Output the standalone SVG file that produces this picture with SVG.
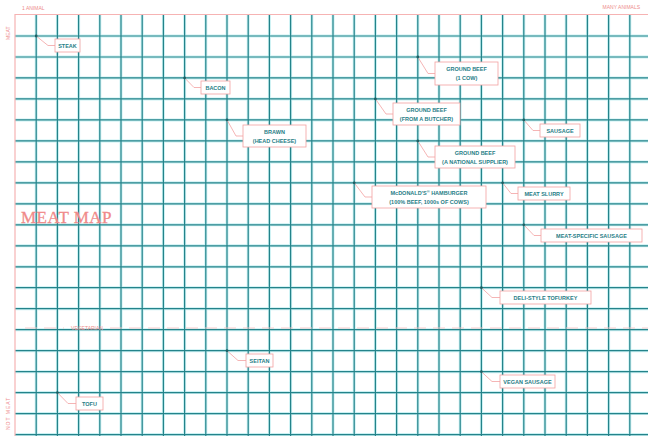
<svg xmlns="http://www.w3.org/2000/svg" width="648" height="439" viewBox="0 0 648 439">
<style>
.glow{stroke:#9fe6ea;stroke-width:3;fill:none;opacity:.55}
.grid{stroke:#24838a;stroke-width:1.2;fill:none}
.border{stroke:#f6b3b3;stroke-width:1.2;fill:none}
.lead{stroke:#f2a2a2;stroke-width:.8;fill:none}
.box{fill:#fff;stroke:#f3a0a0;stroke-width:.8}
.dot{fill:#1d5f63}
.lbl{font-family:"Liberation Sans",Arial,sans-serif;font-size:5.5px;font-weight:bold;fill:#1f7d86;text-anchor:middle}
.axis{font-family:"Liberation Sans",Arial,sans-serif;font-size:5px;fill:#ee8c8c}
.title{font-family:"Liberation Serif","Times New Roman",serif;font-size:17px;fill:#f08a8a;letter-spacing:.5px;stroke:#f08a8a;stroke-width:.3}
.dash{stroke:#f8c4c4;stroke-width:.9;stroke-dasharray:12 7;fill:none}
</style>
<rect width="648" height="439" fill="#fff"/>
<g id="grid">
<path class="glow" d="M36.2 14V436M57.4 14V436M78.6 14V436M99.8 14V436M121 14V436M142.2 14V436M163.4 14V436M184.6 14V436M205.8 14V436M227 14V436M248.2 14V436M269.4 14V436M290.6 14V436M311.8 14V436M333 14V436M354.2 14V436M375.4 14V436M396.6 14V436M417.8 14V436M439 14V436M460.2 14V436M481.4 14V436M502.6 14V436M523.8 14V436M545 14V436M566.2 14V436M587.4 14V436M608.6 14V436M629.8 14V436M15 36H648M15 57H648M15 77.9H648M15 98.9H648M15 119.9H648M15 140.9H648M15 161.9H648M15 182.8H648M15 203.8H648M15 224.8H648M15 245.8H648M15 266.8H648M15 287.7H648M15 308.7H648M15 329.7H648M15 350.7H648M15 371.7H648M15 392.6H648M15 413.6H648M15 434.6H648"/>
<path class="grid" d="M36.2 14V436M57.4 14V436M78.6 14V436M99.8 14V436M121 14V436M142.2 14V436M163.4 14V436M184.6 14V436M205.8 14V436M227 14V436M248.2 14V436M269.4 14V436M290.6 14V436M311.8 14V436M333 14V436M354.2 14V436M375.4 14V436M396.6 14V436M417.8 14V436M439 14V436M460.2 14V436M481.4 14V436M502.6 14V436M523.8 14V436M545 14V436M566.2 14V436M587.4 14V436M608.6 14V436M629.8 14V436M15 36H648M15 57H648M15 77.9H648M15 98.9H648M15 119.9H648M15 140.9H648M15 161.9H648M15 182.8H648M15 203.8H648M15 224.8H648M15 245.8H648M15 266.8H648M15 287.7H648M15 308.7H648M15 329.7H648M15 350.7H648M15 371.7H648M15 392.6H648M15 413.6H648M15 434.6H648"/>
<path class="border" d="M15 14.5H648M15 14V436"/>
</g>
<g id="axes">
<text class="axis" x="22" y="10">1 ANIMAL</text>
<text class="axis" x="640" y="9" text-anchor="end">MANY ANIMALS</text>
<text class="axis" transform="translate(10 40) rotate(-90)">MEAT</text>
<text class="axis" transform="translate(10 430) rotate(-90)" letter-spacing="1">NOT MEAT</text>
<text class="title" x="21" y="223">MEAT MAP</text>
<path class="dash" d="M25 328H64M110 328H648"/>
<text class="axis" x="87" y="329.5" text-anchor="middle">VEGETARIAN</text>
</g>
<g id="connectors">
<path class="lead" d="M36.2 36L48 45.5H55"/>
<path class="lead" d="M184.6 77.9L194 87.5H201"/>
<path class="lead" d="M227 119.9L236 136H243"/>
<path class="lead" d="M417.8 57L428 73.5H435"/>
<path class="lead" d="M375.4 98.9L386 114H393"/>
<path class="lead" d="M417.8 140.9L428 157H435"/>
<path class="lead" d="M523.8 119.9L533 130.5H540"/>
<path class="lead" d="M354.2 182.8L365 197H372"/>
<path class="lead" d="M502.6 182.8L511 193.5H518"/>
<path class="lead" d="M523.8 224.8L534 235.5H541"/>
<path class="lead" d="M481.4 287.7L492 297.5H500"/>
<path class="lead" d="M481.4 371.7L492 381.5H500"/>
<path class="lead" d="M227 350.7L238 360.5H246"/>
<path class="lead" d="M57.4 392.6L68 403.5H76"/>
</g>
<g id="steak"><circle class="dot" cx="36.2" cy="36" r="1.4"/><rect class="box" x="55" y="39" width="25" height="13"/><text class="lbl" x="67.5" y="47.5">STEAK</text></g>
<g id="bacon"><circle class="dot" cx="184.6" cy="77.9" r="1.4"/><rect class="box" x="201" y="81" width="29" height="13"/><text class="lbl" x="215.5" y="89.5">BACON</text></g>
<g id="brawn"><circle class="dot" cx="227" cy="119.9" r="1.4"/><rect class="box" x="243" y="125" width="63" height="22"/><text class="lbl" x="274.5" y="134">BRAWN</text><text class="lbl" x="274.5" y="142.5">(HEAD CHEESE)</text></g>
<g id="ground-beef-1"><circle class="dot" cx="417.8" cy="57" r="1.4"/><rect class="box" x="435" y="62" width="63" height="23"/><text class="lbl" x="466.5" y="71">GROUND BEEF</text><text class="lbl" x="466.5" y="80">(1 COW)</text></g>
<g id="ground-beef-2"><circle class="dot" cx="375.4" cy="98.9" r="1.4"/><rect class="box" x="393" y="103" width="67" height="22"/><text class="lbl" x="426.5" y="112">GROUND BEEF</text><text class="lbl" x="426.5" y="120.5">(FROM A BUTCHER)</text></g>
<g id="ground-beef-3"><circle class="dot" cx="417.8" cy="140.9" r="1.4"/><rect class="box" x="435" y="146" width="80" height="22"/><text class="lbl" x="475" y="155">GROUND BEEF</text><text class="lbl" x="475" y="163.5">(A NATIONAL SUPPLIER)</text></g>
<g id="sausage"><circle class="dot" cx="523.8" cy="119.9" r="1.4"/><rect class="box" x="540" y="124" width="40" height="13"/><text class="lbl" x="560" y="132.5">SAUSAGE</text></g>
<g id="hamburger"><circle class="dot" cx="354.2" cy="182.8" r="1.4"/><rect class="box" x="372" y="186" width="114" height="22"/><text class="lbl" x="429" y="195">McDONALD'S<tspan font-size="4" dy="-2">®</tspan><tspan dy="2"> HAMBURGER</tspan></text><text class="lbl" x="429" y="203.5">(100% BEEF, 1000s OF COWS)</text></g>
<g id="meat-slurry"><circle class="dot" cx="502.6" cy="182.8" r="1.4"/><rect class="box" x="518" y="187" width="52" height="13"/><text class="lbl" x="544" y="195.5">MEAT SLURRY</text></g>
<g id="meat-sausage"><circle class="dot" cx="523.8" cy="224.8" r="1.4"/><rect class="box" x="541" y="229" width="101" height="13"/><text class="lbl" x="591.5" y="237.5">MEAT-SPECIFIC SAUSAGE</text></g>
<g id="tofurkey"><circle class="dot" cx="481.4" cy="287.7" r="1.4"/><rect class="box" x="500" y="291" width="91" height="13"/><text class="lbl" x="545.5" y="299.5">DELI-STYLE TOFURKEY</text></g>
<g id="vegan-sausage"><circle class="dot" cx="481.4" cy="371.7" r="1.4"/><rect class="box" x="500" y="375" width="55" height="13"/><text class="lbl" x="527.5" y="383.5">VEGAN SAUSAGE</text></g>
<g id="seitan"><circle class="dot" cx="227" cy="350.7" r="1.4"/><rect class="box" x="246" y="354" width="27" height="13"/><text class="lbl" x="259.5" y="362.5">SEITAN</text></g>
<g id="tofu"><circle class="dot" cx="57.4" cy="392.6" r="1.4"/><rect class="box" x="76" y="397" width="27" height="13"/><text class="lbl" x="89.5" y="405.5">TOFU</text></g>
</svg>
